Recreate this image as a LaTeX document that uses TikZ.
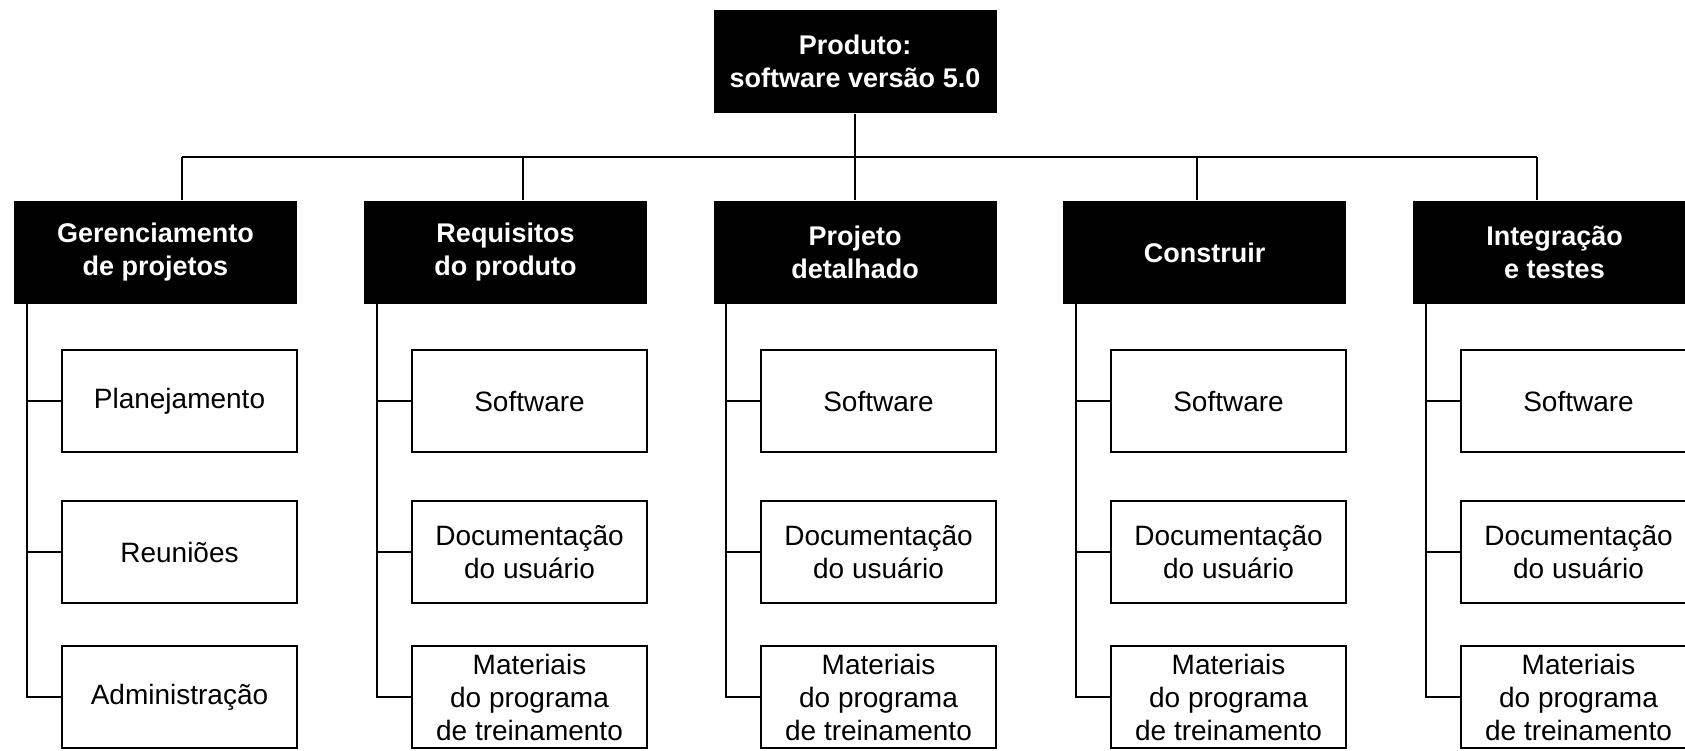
\documentclass[tikz,border=0pt]{standalone}
\usepackage{fontspec}
\setmainfont{Liberation Sans}
\usepackage{tikz}

\begin{document}
\begin{tikzpicture}[x=1pt,y=-1pt,line width=2pt,
    headbox/.style={fill=black,text=white,inner sep=0pt,minimum width=283pt,
      minimum height=103pt,align=center,font=\bfseries\fontsize{27}{33}\selectfont},
    itembox/.style={draw=black,fill=white,inner sep=0pt,minimum width=235pt,
      minimum height=102pt,align=center,font=\fontsize{28}{33}\selectfont}]
      \useasboundingbox (0,0) rectangle (1685,750);
      \clip (0,0) rectangle (1685,750);

      \coordinate (Prodc) at (855, 61.5);

      \coordinate (Gerc) at (155.5, 252.5);
      \coordinate (Reqc) at (505.5, 252.5);
      \coordinate (Projc) at (855, 252.5);
      \coordinate (Consc) at (1204.5, 252.5);
      \coordinate (Intc) at (1554.5, 252.5);

      \coordinate (Gert) at (182, 157);
      \coordinate (Reqt) at (523, 157);
      \coordinate (Projt) at (855, 157);
      \coordinate (Const) at (1197, 157);
      \coordinate (Intt) at (1537, 157);

      \coordinate (Gers) at (27, 304);
      \coordinate (Reqs) at (377, 304);
      \coordinate (Projs) at (726, 304);
      \coordinate (Conss) at (1076, 304);
      \coordinate (Ints) at (1426, 304);

      \node[headbox] (Prod) at (Prodc) {Produto:\\software versão 5.0};

      \node[headbox] (Ger) at (Gerc) {Gerenciamento\\de projetos};
      \node[headbox] (Req) at (Reqc) {Requisitos\\do produto};
      \node[headbox] (Proj) at (Projc) {Projeto\\detalhado};
      \node[headbox] (Cons) at (Consc) {Construir};
      \node[headbox] (Int) at (Intc) {Integração\\e testes};

      \node[itembox] (GerPla) at (179.5, 401) {Planejamento};
      \node[itembox] (GerReu) at (179.5, 552) {Reuniões};
      \node[itembox] (GerAdm) at (179.5, 697) {Administração};

      \node[itembox] (ReqSw) at (529.5, 401) {Software};
      \node[itembox] (ReqDoc) at (529.5, 552) {Documentação\\do usuário};
      \node[itembox] (ReqMat) at (529.5, 697) {Materiais\\do programa\\de treinamento};

      \node[itembox] (ProjSw) at (878.5, 401) {Software};
      \node[itembox] (ProjDoc) at (878.5, 552) {Documentação\\do usuário};
      \node[itembox] (ProjMat) at (878.5, 697) {Materiais\\do programa\\de treinamento};

      \node[itembox] (ConsSw) at (1228.5, 401) {Software};
      \node[itembox] (ConsDoc) at (1228.5, 552) {Documentação\\do usuário};
      \node[itembox] (ConsMat) at (1228.5, 697) {Materiais\\do programa\\de treinamento};

      \node[itembox] (IntSw) at (1578.5, 401) {Software};
      \node[itembox] (IntDoc) at (1578.5, 552) {Documentação\\do usuário};
      \node[itembox] (IntMat) at (1578.5, 697) {Materiais\\do programa\\de treinamento};

      \draw (Prod.south) -- (Proj.north);
      \draw (Gert) -- (Intt);
      \draw (Gert) -- (Gert |- Ger.north);
      \draw (Reqt) -- (Reqt |- Req.north);
      \draw (Const) -- (Const |- Cons.north);
      \draw (Intt) -- (Intt |- Int.north);

      \draw (Gers) |- (GerAdm.west);
      \draw (Gers |- GerPla.west) -- (GerPla.west);
      \draw (Gers |- GerReu.west) -- (GerReu.west);

      \draw (Reqs) |- (ReqMat.west);
      \draw (Reqs |- ReqSw.west) -- (ReqSw.west);
      \draw (Reqs |- ReqDoc.west) -- (ReqDoc.west);

      \draw (Projs) |- (ProjMat.west);
      \draw (Projs |- ProjSw.west) -- (ProjSw.west);
      \draw (Projs |- ProjDoc.west) -- (ProjDoc.west);

      \draw (Conss) |- (ConsMat.west);
      \draw (Conss |- ConsSw.west) -- (ConsSw.west);
      \draw (Conss |- ConsDoc.west) -- (ConsDoc.west);

      \draw (Ints) |- (IntMat.west);
      \draw (Ints |- IntSw.west) -- (IntSw.west);
      \draw (Ints |- IntDoc.west) -- (IntDoc.west);
    \end{tikzpicture}
\end{document}
